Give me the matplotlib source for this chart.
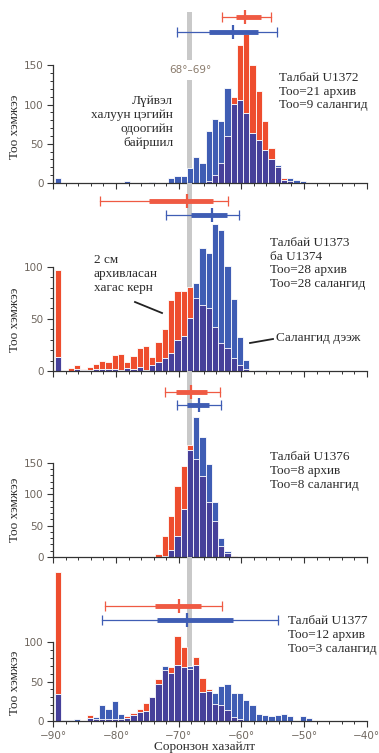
import numpy as np
import matplotlib.pyplot as plt

# histogram bins (1 degree wide), left edges
bin_left = np.arange(-89.7, -40.0, 1.0)


def counts(values):
    out = np.zeros(len(bin_left))
    for k, v in values.items():
        out[k] = v
    return out


# ---- Site U1372 ----
red1 = counts({24: 3, 25: 10, 26: 25, 27: 60, 28: 109, 29: 176, 30: 190, 31: 150,
               32: 117, 33: 79, 34: 44, 35: 20, 36: 6, 37: 2})
blue1 = counts({0: 6, 11: 2, 15: 1.5, 18: 7, 19: 8.5, 20: 8.5, 21: 19, 22: 33, 23: 25.5,
                24: 66, 25: 82, 26: 79.5, 27: 121, 28: 100.7, 29: 106, 30: 89, 31: 64,
                32: 55, 33: 42.5, 34: 31, 35: 22.5, 36: 4, 37: 6, 38: 4, 39: 2})

# ---- Sites U1373 / U1374 ----
red2 = counts({0: 97, 2: 3, 3: 6, 4: 2, 5: 4, 6: 7, 7: 10, 8: 9, 9: 15, 10: 16, 11: 9,
               12: 14, 13: 22, 14: 24, 15: 13, 16: 28, 17: 40, 18: 68, 19: 77, 20: 77,
               21: 81, 22: 70, 23: 63, 24: 60, 25: 42, 26: 27, 27: 22, 28: 12, 29: 6, 30: 2})
blue2 = counts({0: 13, 3: 2, 4: 1, 5: 1, 6: 2, 7: 2, 8: 2, 9: 1.5, 10: 1, 11: 3, 12: 1.5,
                13: 4, 14: 1, 15: 6, 16: 9, 17: 12, 18: 17, 19: 30, 20: 34, 21: 51, 22: 84,
                23: 118, 24: 113, 25: 141, 26: 135, 27: 101, 28: 69, 29: 33, 30: 11,
                32: 1, 33: 1})

# ---- Site U1376 ----
red3 = counts({16: 4, 17: 34, 18: 66, 19: 114, 20: 145, 21: 178, 22: 156, 23: 129,
               24: 87, 25: 57, 26: 17, 27: 6, 28: 2})
blue3 = counts({17: 1, 18: 11, 19: 33, 20: 77, 21: 170, 22: 224, 23: 191, 24: 149,
                25: 87, 26: 30, 27: 10})

# ---- Site U1377 ----
red4 = counts({0: 188, 5: 8, 6: 2, 7: 3, 8: 3, 9: 3, 10: 3, 11: 6, 12: 10, 13: 15, 14: 23,
               15: 31, 16: 53, 17: 65, 18: 68, 19: 108, 20: 94, 21: 66, 22: 81, 23: 54,
               24: 40, 25: 22, 26: 20, 27: 14, 28: 5, 29: 2})
blue4 = counts({0: 34, 1: 1, 2: 1, 3: 2, 5: 4, 6: 5, 7: 20, 8: 15, 9: 25, 10: 9, 11: 4,
                12: 8, 13: 12, 14: 12.5, 15: 31, 16: 47, 17: 70, 18: 61, 19: 71, 20: 68,
                21: 70, 22: 71, 23: 37, 24: 38, 25: 35, 26: 44, 27: 47, 28: 35, 29: 35,
                30: 26, 31: 20, 32: 9, 33: 8, 34: 6, 35: 8, 36: 9, 37: 6, 39: 6, 40: 4})

# summary bars: (whisker lo, box lo, mean, box hi, whisker hi, y level)
red_stats = [(-63.1, -60.9, -59.4, -56.8, -55.2, 211),
             (-82.6, -74.8, -68.6, -64.6, -62.1, 163),
             (-72.2, -70.5, -68.1, -65.4, -63.4, 263),
             (-81.7, -73.8, -69.9, -66.5, -63.1, 146)]
blue_stats = [(-70.2, -65.1, -61.3, -57.3, -54.3, 192),
              (-72.0, -68.0, -64.7, -62.3, -60.3, 150),
              (-70.2, -68.6, -66.8, -65.1, -63.3, 242),
              (-82.2, -73.5, -68.6, -61.4, -54.1, 128)]

site_texts = ["Талбай U1372\nТоо=21 архив\nТоо=9 салангид",
              "Талбай U1373\nба U1374\nТоо=28 архив\nТоо=28 салангид",
              "Талбай U1376\nТоо=8 архив\nТоо=8 салангид",
              "Талбай U1377\nТоо=12 архив\nТоо=3 салангид"]

reds = [red1, red2, red3, red4]
blues = [blue1, blue2, blue3, blue4]
ytop_tick = [150, 100, 150, 100]
band = (-68.7, -67.8)

RED = "#ee4d2e"
BLUE = "#3f5db4"
DARK = "#46409a"
TICK_COL = "#6e665e"
SERIF = "Liberation Serif"

W, H = 379, 753
fig = plt.figure(figsize=(W / 100, H / 100), dpi=100)


def fx(px):
    return px / W


def fy(py):
    return 1 - py / H


# axes frames in pixels: (top, zero line, pixels per count)
frames = [(8, 183, 0.7847), (183, 371, 1.043), (371, 557, 0.627), (557, 721, 0.79)]
text_pos = [(279, 91.5), (270, 263.5), (270, 471), (288, 635)]
ylabel_y = [127, 320, 510, 683]

left_px, right_px = 53.3, 366.7
axes = []
for i, (top, zero, scale) in enumerate(frames):
    ax = fig.add_axes([fx(left_px), fy(zero), (right_px - left_px) / W, (zero - top) / H])
    ax.patch.set_visible(False)
    ax.set_xlim(-90, -40)
    ax.set_ylim(0, (zero - top) / scale)

    # grey band of present hotspot latitude
    ymax = 1.0
    if i == 0:
        ymax = (zero - 12) / (zero - top)
    ax.axvspan(band[0], band[1], ymin=0, ymax=ymax, color="#c9c9c9", lw=0, zorder=0)

    r, b = reds[i], blues[i]
    kw = dict(width=1.0, align="edge", edgecolor="white", linewidth=0.6, zorder=2)
    ax.bar(bin_left, r, color=RED, **kw)
    ax.bar(bin_left, b, color=BLUE, **kw)
    ax.bar(bin_left, np.minimum(r, b), color=DARK, **kw)

    # summary whisker bars
    for st, col in ((red_stats[i], "#ef5a43"), (blue_stats[i], BLUE)):
        lo, q1, m, q3, hi, y = st
        ax.plot([lo, hi], [y, y], color=col, lw=0.9, zorder=3, clip_on=False)
        ax.plot([lo, hi], [y, y], ls="none", marker="|", ms=7, mew=0.9, color=col,
                zorder=3, clip_on=False)
        ax.plot([q1, q3], [y, y], color=col, lw=3.5, solid_capstyle="butt", zorder=3,
                clip_on=False)
        ax.plot([m], [y], ls="none", marker="|", ms=10, mew=1.6, color=col, zorder=4,
                clip_on=False)

    for s in ("top", "right"):
        ax.spines[s].set_visible(False)
    ax.spines["left"].set_bounds(0, ytop_tick[i])
    ax.spines["bottom"].set_bounds(-90, -40)
    for s in ("left", "bottom"):
        ax.spines[s].set_color("#333333")
        ax.spines[s].set_linewidth(0.9)

    ax.set_yticks(np.arange(0, ytop_tick[i] + 1, 50))
    ax.set_yticks(np.arange(0, ytop_tick[i] + 1, 10), minor=True)
    ax.set_xticks(np.arange(-90, -39, 10))
    ax.set_xticks(np.arange(-90, -39, 2), minor=True)
    ax.tick_params(which="major", length=4.5, width=0.8, color="#333333",
                   labelsize=7.5, labelcolor=TICK_COL, pad=2.5)
    ax.tick_params(which="minor", length=2.5, width=0.7, color="#333333")
    if i < 3:
        ax.set_xticklabels([])
    else:
        ax.set_xticklabels(["\u221290\u00b0", "\u221280\u00b0", "\u221270\u00b0",
                            "\u221260\u00b0", "\u221250\u00b0", "\u221240\u00b0"])

    fig.text(fx(text_pos[i][0]), fy(text_pos[i][1]), site_texts[i], family=SERIF,
             fontsize=9.5, color="#2b2b2b", ha="left", va="center", linespacing=1.2)
    fig.text(fx(15), fy(ylabel_y[i]), "Тоо хэмжээ", family=SERIF, fontsize=9.5,
             color="#2b2b2b", rotation=90, ha="center", va="center")
    axes.append(ax)

# panel 1 annotations
fig.text(fx(190), fy(70), "68°\u201369°", fontsize=7.5, color="#8a7b6c", ha="center",
         va="center", bbox=dict(facecolor="white", edgecolor="none", pad=3.5), zorder=5)
fig.text(fx(173), fy(122), "Лүйвэл\nхалуун цэгийн\nодоогийн\nбайршил", family=SERIF,
         fontsize=9.5, color="#2b2b2b", ha="right", va="center", multialignment="right",
         linespacing=1.25)

# panel 2 annotations
fig.text(fx(94), fy(274), "2 см\nархивласан\nхагас керн", family=SERIF, fontsize=9.5,
         color="#2b2b2b", ha="left", va="center", linespacing=1.25)
fig.text(fx(276), fy(338), "Салангид дээж", family=SERIF, fontsize=9.5,
         color="#2b2b2b", ha="left", va="center")
fig.add_artist(plt.Line2D([fx(135), fx(162)], [fy(302), fy(313)], color="#222222", lw=1.3))
fig.add_artist(plt.Line2D([fx(250), fx(273)], [fy(343), fy(339)], color="#222222", lw=1.3))

fig.text(fx(205), fy(747), "Соронзон хазайлт", family=SERIF, fontsize=9.5,
         color="#2b2b2b", ha="center", va="center")

fig.savefig("out.png", dpi=100)
